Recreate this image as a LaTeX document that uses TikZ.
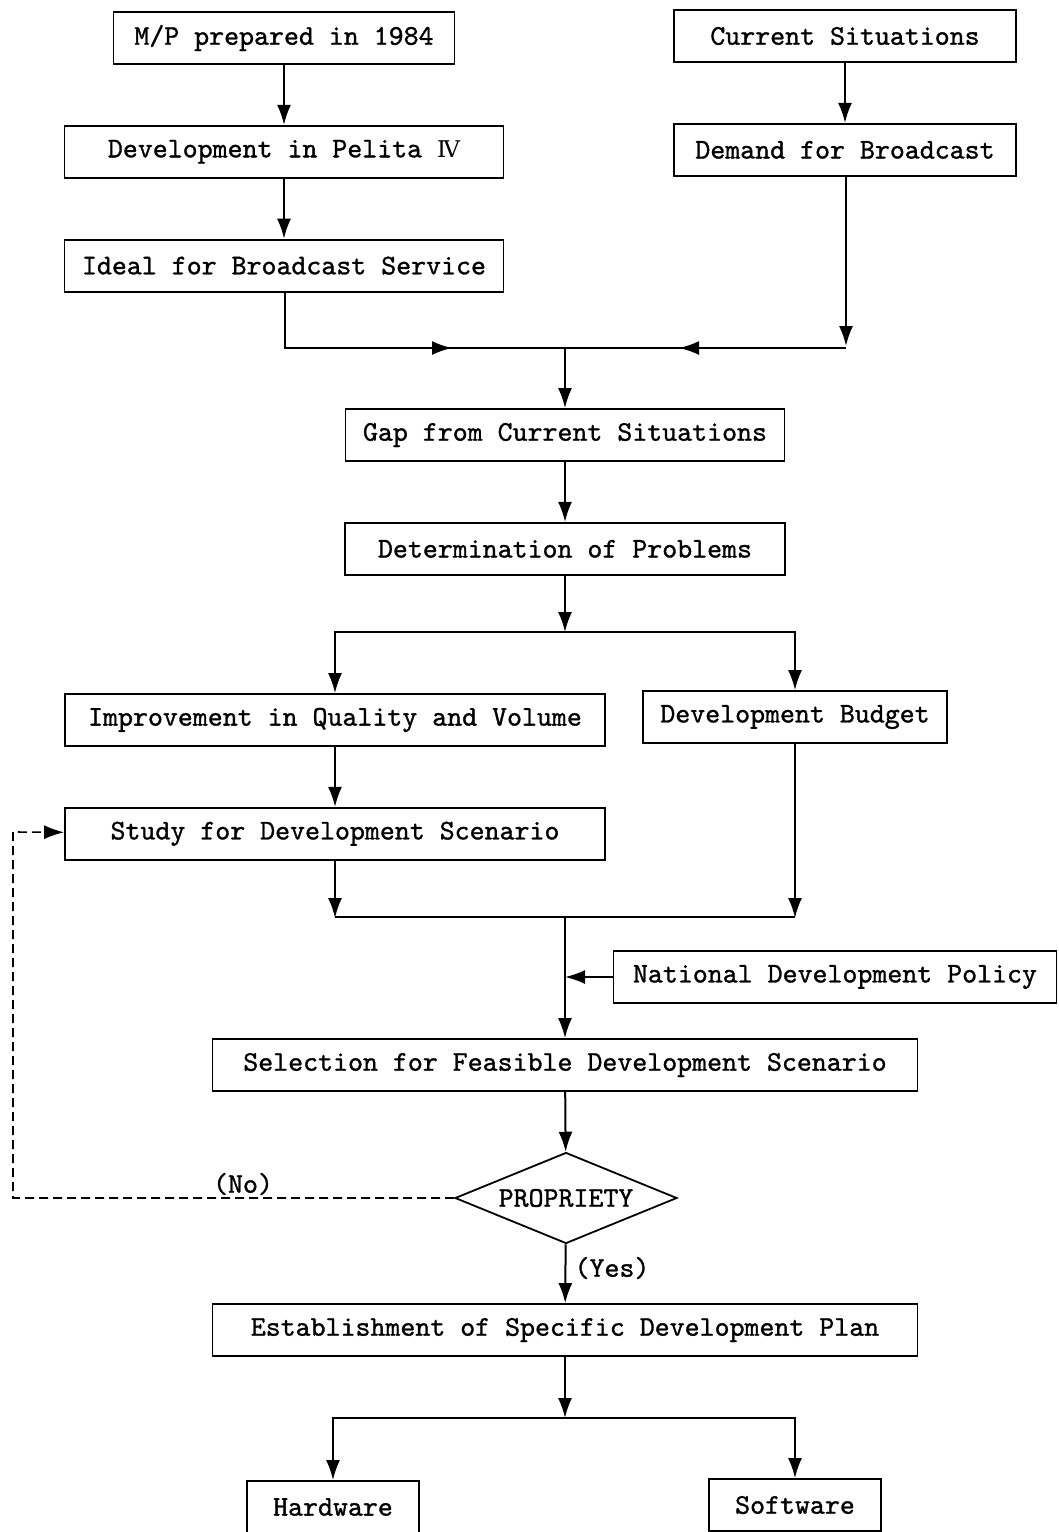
\documentclass[tikz,border=0pt]{standalone}
\usepackage{fontspec}
\newfontfamily\twfont{lmmono10-regular.otf}[FakeBold=1.1]
\newfontfamily\romfont{DejaVu Serif}
\usetikzlibrary{positioning,shapes.geometric,arrows.meta}
\tikzset{
	box/.style={draw,line width=1.8pt,minimum height=52pt,inner sep=0pt,font=\twfont\fontsize{28.5}{32}\selectfont},
	lbl/.style={font=\twfont\fontsize{28.5}{32}\selectfont},
	loop back/.style={line width=1.6pt,dash pattern=on 9pt off 5pt}
}
\begin{document}
\begin{tikzpicture}[x=1pt,y=-1pt,node distance=60pt,>={Latex[length=20pt,width=14pt]},line width=2pt]
						\useasboundingbox (0,0) rectangle (1059,1532);
						\node[box,minimum width=341pt] (1) at (284,38) {M/P prepared in 1984};
						\node[box,minimum width=439pt,below=of 1] (2) {Development in Pelita {\romfont\fontsize{23}{26}\selectfont Ⅳ}};
						\node[box,minimum width=439pt,below=of 2] (3) {Ideal for Broadcast Service};
						\node[box,minimum width=342pt] (4) at (845,36) {Current Situations};
						\node[box,minimum width=342pt,below=of 4] (5) {Demand for Broadcast};
						\node[box,minimum width=439pt] (6) at (565,435) {Gap from Current Situations};
						\node[box,minimum width=440pt,below=of 6] (7) {Determination of Problems};
						\node[box,minimum width=540pt] (8) at (335,720) {Improvement in Quality and Volume};
						\node[box,minimum width=304pt] (9) at (795,717) {Development Budget};
						\node[box,minimum width=540pt,below=of 8] (10) {Study for Development Scenario};
						\node[box,minimum width=443pt] (11) at (835,977) {National Development Policy};
						\node[box,minimum width=705pt] (12) at (565,1065) {Selection for Feasible Development Scenario};
						\node[box,diamond,aspect=2.44,minimum width=222pt,minimum height=91pt] (13) at (566,1198) {PROPRIETY};
						\node[box,minimum width=705pt] (14) at (565,1330) {Establishment of Specific Development Plan};
						\node[box,minimum width=172pt] (15) at (333,1507) {Hardware};
						\node[box,minimum width=172pt] (16) at (795,1505) {Software};
						\node[lbl] (no) at (243,1184) {(No)};
						\node[lbl] (yes) at (612,1268) {(Yes)};
						\coordinate (a1) at (285,348);
						\coordinate (a2) at (452,348);
						\coordinate (a3) at (565,348);
						\coordinate (a4) at (679,348);
						\coordinate (a5) at (846,348);
						\coordinate (b1) at (335,632);
						\coordinate (b2) at (565,632);
						\coordinate (b3) at (795,632);
						\coordinate (c1) at (335,917);
						\coordinate (c2) at (565,917);
						\coordinate (c3) at (795,917);
						\coordinate (c4) at (565,977);
						\coordinate (d1) at (13,1198);
						\coordinate (d2) at (13,832);
						\coordinate (e1) at (335,1418);
						\coordinate (e2) at (565,1418);
						\coordinate (e3) at (795,1418);
						\draw (a1) to (a5);
						\draw (c1) to (c3);
						\draw (e1) to (e3);
						\begin{scope}[->]
						\draw (1) to (2);
						\draw (2) to (3);
						\draw (4) to (5);
						\draw (3.south -| a1) |- (a2);
						\draw (5.south -| a5) to ([yshift=2pt]a5);
						\draw (a5) to (a4);
						\draw (a3) to (6);
						\draw (6) to (7);
						\draw (7) to (b2);
						\draw (b2) -| (8);
						\draw (b2) -| (9);
						\draw (8) to (10);
						\draw (10.south -| c1) to ([yshift=-1pt]c1);
						\draw (9.south -| c3) to ([yshift=-1pt]c3);
						\draw (c2) to (12);
						\draw (11) to (c4);
						\draw (12) to (13);
						\draw (13) to (14);
						\draw[loop back] (13) to (d1) to (d2) to (10);
						\draw (14) to (e2);
						\draw (e2) -| (15);
						\draw (e2) -| (16);
						\end{scope}
						\end{tikzpicture}
\end{document}
